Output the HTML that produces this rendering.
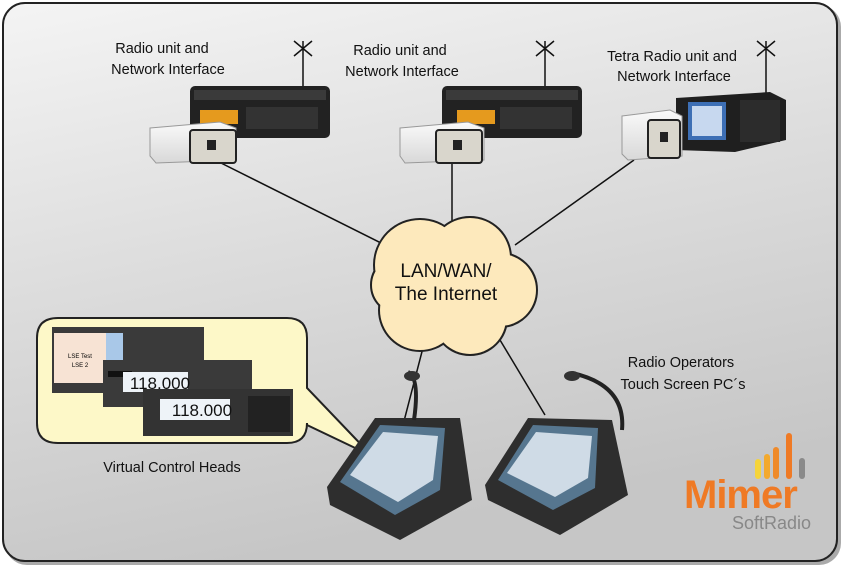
<!DOCTYPE html>
<html><head><meta charset="utf-8"><style>
html,body{margin:0;padding:0;background:#fff;}
svg{display:block;}
text{font-family:"Liberation Sans",Arial,sans-serif;}
</style></head><body>
<svg width="843" height="568" viewBox="0 0 843 568" xmlns="http://www.w3.org/2000/svg">
<defs>
<linearGradient id="bg" x1="0" y1="0" x2="0.3" y2="1">
<stop offset="0" stop-color="#f4f4f4"/><stop offset="0.5" stop-color="#dcdcdc"/><stop offset="1" stop-color="#c6c6c6"/></linearGradient>
<linearGradient id="wb" x1="0" y1="0" x2="0" y2="1"><stop offset="0" stop-color="#fafafa"/><stop offset="1" stop-color="#d8d8d8"/></linearGradient>
<g id="cloudshape">
<circle cx="420" cy="265" r="45"/><circle cx="470" cy="258" r="40"/><circle cx="500" cy="290" r="36"/>
<circle cx="470" cy="318" r="36"/><circle cx="420" cy="310" r="40"/><circle cx="400" cy="285" r="28"/><circle cx="445" cy="290" r="45"/>
</g>
</defs>
<rect x="5" y="5" width="836" height="560" rx="22" fill="#555" opacity="0.5"/>
<rect x="3" y="3" width="834" height="558" rx="22" fill="url(#bg)" stroke="#222" stroke-width="2"/>

<g stroke="#111" stroke-width="1.5">
<line x1="215" y1="160" x2="395" y2="250"/>
<line x1="452" y1="162" x2="452" y2="225"/>
<line x1="634" y1="160" x2="515" y2="245"/>
<line x1="425" y1="340" x2="403" y2="425"/>
<line x1="500" y1="340" x2="545" y2="415"/>
</g>

<g fill="#222" stroke="#222" stroke-width="4"><use href="#cloudshape"/></g>
<g fill="#fde9bc"><use href="#cloudshape"/></g>
<text x="446" y="277" font-size="19" text-anchor="middle" fill="#111">LAN/WAN/</text>
<text x="446" y="300" font-size="19" text-anchor="middle" fill="#111">The Internet</text>

<g font-size="14.5" fill="#111" text-anchor="middle">
<text x="162" y="53">Radio unit and</text><text x="168" y="74">Network Interface</text>
<text x="400" y="55">Radio unit and</text><text x="402" y="76">Network Interface</text>
<text x="672" y="61">Tetra Radio unit and</text><text x="674" y="81">Network Interface</text>
<text x="681" y="367">Radio Operators</text><text x="683" y="389">Touch Screen PC´s</text>
<text x="172" y="472">Virtual Control Heads</text>
</g>

<g stroke="#111" stroke-width="1.5" fill="none">
<path d="M303 41 L303 90 M294 41 L312 56 M312 41 L294 56"/>
<path d="M545 41 L545 92 M536 41 L554 56 M554 41 L536 56"/>
<path d="M766 41 L766 95 M757 41 L775 56 M775 41 L757 56"/>
</g>

<rect x="190" y="86" width="140" height="52" rx="5" fill="#222"/>
<rect x="194" y="90" width="132" height="10" fill="#3a3a3a"/>
<rect x="200" y="110" width="38" height="14" fill="#e59a1e"/>
<rect x="246" y="107" width="72" height="22" fill="#333"/>
<rect x="442" y="86" width="140" height="52" rx="5" fill="#222"/>
<rect x="446" y="90" width="132" height="10" fill="#3a3a3a"/>
<rect x="457" y="110" width="38" height="14" fill="#e59a1e"/>
<rect x="500" y="107" width="72" height="22" fill="#333"/>
<path d="M676 98 L770 92 L786 100 L786 140 L735 152 L676 150 Z" fill="#1f1f1f"/>
<rect x="688" y="102" width="38" height="38" fill="#3d6fb5"/>
<rect x="692" y="106" width="30" height="30" fill="#c7d8ef"/>
<rect x="740" y="100" width="40" height="42" fill="#2c2c2c"/>

<g>
<path d="M150 128 L220 122 L236 128 L236 160 L156 163 L150 156 Z" fill="url(#wb)" stroke="#999"/>
<rect x="190" y="130" width="46" height="33" rx="3" fill="#d9d6cc" stroke="#222" stroke-width="2"/>
<rect x="207" y="140" width="9" height="10" fill="#222"/>
<path d="M400 128 L468 122 L484 128 L484 160 L405 163 L400 156 Z" fill="url(#wb)" stroke="#999"/>
<rect x="436" y="130" width="46" height="33" rx="3" fill="#d9d6cc" stroke="#222" stroke-width="2"/>
<rect x="453" y="140" width="9" height="10" fill="#222"/>
<path d="M622 116 L670 110 L682 116 L682 156 L628 160 L622 154 Z" fill="url(#wb)" stroke="#999"/>
<rect x="648" y="120" width="32" height="38" rx="3" fill="#d9d6cc" stroke="#222" stroke-width="2"/>
<rect x="660" y="132" width="8" height="10" fill="#222"/>
</g>

<!-- callout -->
<path d="M58 318 L287 318 Q307 318 307 338 L307 388 L372 456 L307 425 L307 423 Q307 443 287 443 L58 443 Q37 443 37 423 L37 338 Q37 318 58 318 Z" fill="#fdf8c8" stroke="#222" stroke-width="2"/>
<rect x="52" y="327" width="152" height="66" fill="#3a3a3a"/>
<rect x="54" y="333" width="52" height="50" fill="#f7e3d4"/>
<text x="80" y="358" font-size="6" text-anchor="middle">LSE Test</text>
<text x="80" y="367" font-size="6" text-anchor="middle">LSE 2</text>
<rect x="106" y="333" width="17" height="50" fill="#a9c8e8"/>
<rect x="103" y="360" width="149" height="47" fill="#3a3a3a"/>
<rect x="108" y="371" width="24" height="6" fill="#111"/>
<rect x="123" y="372" width="65" height="20" fill="#eef3f8"/>
<text x="160" y="389" font-size="17" text-anchor="middle" fill="#111">118.000</text>
<rect x="143" y="389" width="150" height="47" fill="#333"/>
<rect x="160" y="399" width="70" height="21" fill="#eef3f8"/>
<text x="202" y="416" font-size="17" text-anchor="middle" fill="#111">118.000</text>
<rect x="248" y="396" width="42" height="36" fill="#222"/>

<g>
<path d="M327 487 L375 418 L460 418 L472 500 L400 540 L330 505 Z" fill="#2e2e2e"/>
<path d="M340 482 L380 425 L445 428 L440 490 L395 515 Z" fill="#56768f"/>
<path d="M350 475 L383 432 L438 436 L433 480 L398 502 Z" fill="#cfdbe6"/>
<path d="M414 420 Q420 378 408 372" stroke="#222" stroke-width="4" fill="none"/>
<ellipse cx="412" cy="376" rx="8" ry="5" fill="#333"/>
<path d="M485 485 L528 418 L612 420 L628 495 L560 535 L488 500 Z" fill="#2e2e2e"/>
<path d="M498 480 L533 425 L598 428 L595 488 L553 510 Z" fill="#56768f"/>
<path d="M507 473 L536 432 L592 436 L588 478 L555 497 Z" fill="#cfdbe6"/>
<path d="M622 430 Q626 385 572 373" stroke="#222" stroke-width="4" fill="none"/>
<ellipse cx="572" cy="376" rx="8" ry="5" fill="#333"/>
</g>

<g>
<rect x="755" y="459" width="6" height="20" rx="3" fill="#f5d43a"/>
<rect x="764" y="454" width="6" height="25" rx="3" fill="#f3a92d"/>
<rect x="773" y="447" width="6" height="32" rx="3" fill="#ef8a2a"/>
<rect x="786" y="433" width="6" height="46" rx="3" fill="#ef7a25"/>
<rect x="799" y="458" width="6" height="21" rx="3" fill="#8a8a8a"/>
<text x="684" y="508" font-size="40" font-weight="bold" fill="#ef7a25" letter-spacing="-1">Mimer</text>
<text x="732" y="529" font-size="18" fill="#888">SoftRadio</text>
</g>
</svg>
</body></html>
